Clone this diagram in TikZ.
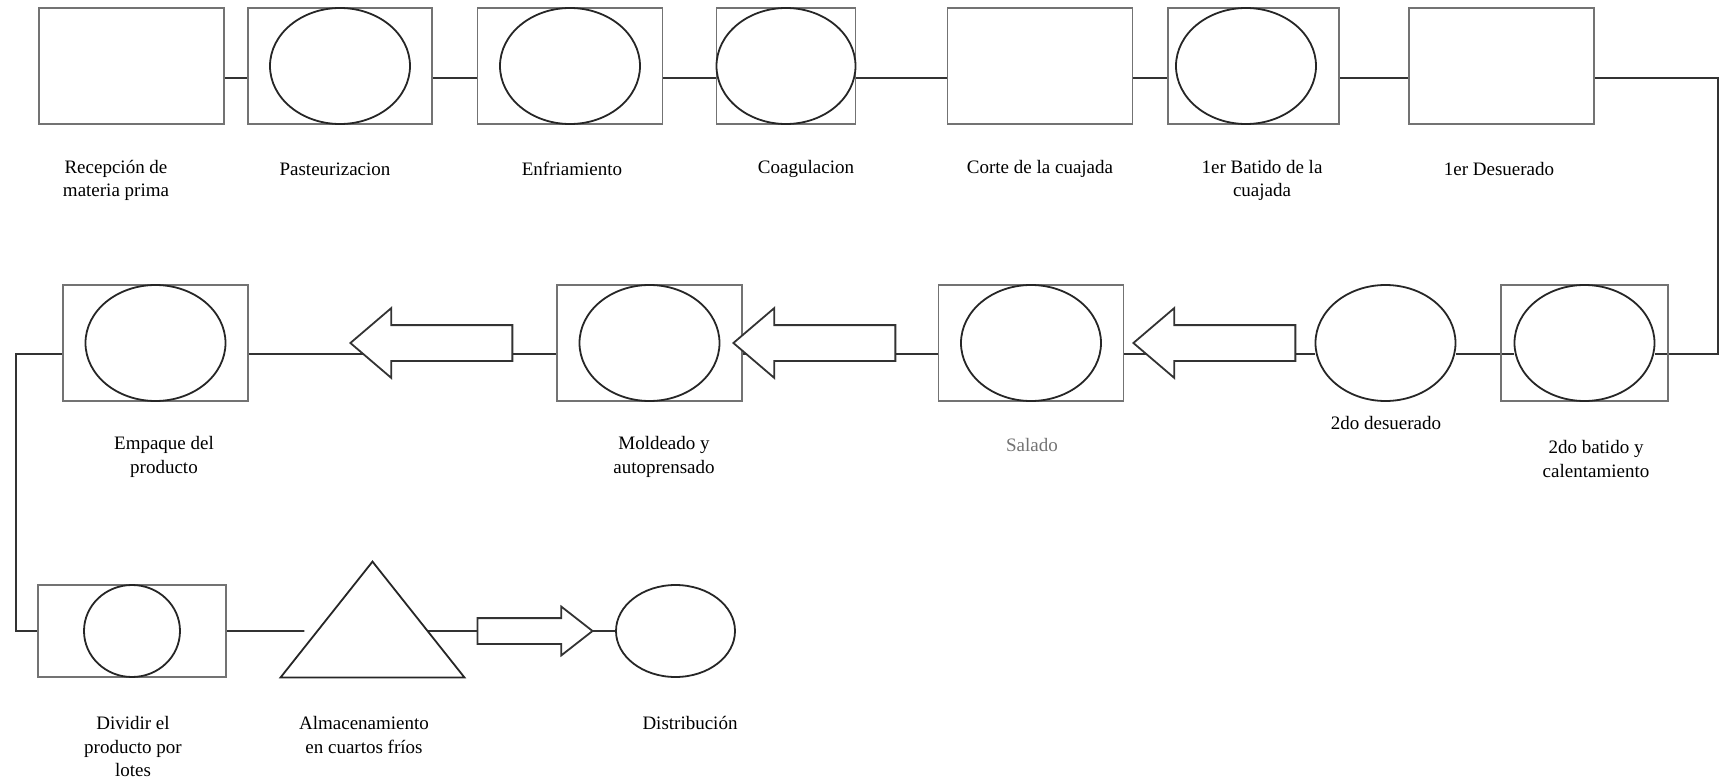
\documentclass[tikz,border=0pt]{standalone}
\usepackage{fontspec}
\setmainfont{Liberation Serif}
\usepackage{tikz}
\usetikzlibrary{shapes.geometric,shapes.arrows,backgrounds,calc}

\tikzset{
  caja/.style={draw=black!55, line width=0.6pt, inner sep=0pt, minimum width=92.5pt, minimum height=58pt},
  elip/.style={ellipse, draw=black!85, line width=0.9pt, inner sep=0pt, minimum width=70pt, minimum height=58pt},
  trazo/.style={draw=black!85, line width=0.9pt},
  linea/.style={draw=black!80, line width=0.9pt},
  flecha/.style={single arrow, draw=black!80, line width=0.9pt, fill=white, inner xsep=0pt, inner ysep=8.5pt,
    single arrow head extend=8.5pt, single arrow tip angle=81, single arrow head indent=0pt,
    minimum height=81pt, shape border rotate=180, anchor=tip},
  flechad/.style={single arrow, draw=black!80, line width=0.9pt, fill=white, inner xsep=0pt, inner ysep=6pt,
    single arrow head extend=5.75pt, single arrow tip angle=76, single arrow head indent=0pt,
    minimum height=57.5pt, anchor=tip},
  etiqueta/.style={font=\fontsize{9.5}{11.8}\selectfont, align=center, inner sep=0pt}
}

\begin{document}
\begin{tikzpicture}[x=0.5pt,y=-0.5pt]
\useasboundingbox (0,0) rectangle (1720,781);

% fila 1
\node[caja] (recep) at (131.5,66) {};
\node[caja, minimum width=92pt] (pasteur) at (340,66) {};
\node[elip] (pasteurE) at (340,66) {};
\node[caja] (enfri) at (570,66) {};
\node[elip] (enfriE) at (570,66) {};
\node[caja, minimum width=69.5pt] (coag) at (786,66) {};
\node[elip, minimum width=69.5pt] (coagE) at (786,66) {};
\node[caja] (corte) at (1040,66) {};
\node[caja, minimum width=85.5pt] (batido1) at (1253.5,66) {};
\node[elip] (batido1E) at (1246,66) {};
\node[caja] (desuer1) at (1501.5,66) {};

\node[etiqueta] (recepT) at (116,180.5) {Recepción de\\materia prima};
\node[etiqueta] (pasteurT) at (335,169) {Pasteurizacion};
\node[etiqueta] (enfriT) at (572,169) {Enfriamiento};
\node[etiqueta] (coagT) at (806,169) {Coagulacion};
\node[etiqueta] (corteT) at (1040,169) {Corte de la cuajada};
\node[etiqueta] (batido1T) at (1262,180.5) {1er Batido de la\\cuajada};
\node[etiqueta] (desuer1T) at (1499,169) {1er Desuerado};

% fila 2
\node[caja] (empaque) at (155.5,343) {};
\node[elip] (empaqueE) at (155.5,343) {};
\node[caja] (molde) at (649.5,343) {};
\node[elip] (moldeE) at (649.5,343) {};
\node[caja] (salado) at (1031,343) {};
\node[elip] (saladoE) at (1031,343) {};
\node[elip] (desuer2) at (1385.5,343) {};
\node[caja, minimum width=83.5pt] (batido2) at (1584.5,343) {};
\node[elip] (batido2E) at (1584.5,343) {};
\node[flecha] (fl1) at (349,343) {};
\node[flecha] (fl2) at (732,343) {};
\node[flecha] (fl3) at (1132,343) {};

\node[etiqueta] (empaqueT) at (164,457) {Empaque del\\producto};
\node[etiqueta] (moldeT) at (664,457) {Moldeado y\\autoprensado};
\node[etiqueta, text=black!55] (saladoT) at (1032,445) {Salado};
\node[etiqueta] (desuer2T) at (1386,423) {2do desuerado};
\node[etiqueta] (batido2T) at (1596,459) {2do batido y\\calentamiento};

% fila 3
\node[caja, minimum width=94pt, minimum height=46pt] (dividir) at (132,631) {};
\node[elip, minimum width=48pt, minimum height=46pt] (dividirE) at (132,631) {};
\node[minimum width=91.5pt, minimum height=57.5pt, inner sep=0pt] (almac) at (372.5,619.5) {};
\draw[trazo] (almac.north) -- (almac.south east) -- (almac.south west) -- cycle;
\node[flechad] (fl4) at (594,631) {};
\node[elip, minimum width=59.5pt, minimum height=46pt] (distrib) at (675.5,631) {};

\node[etiqueta] (dividirT) at (133,746.5) {Dividir el\\producto por\\lotes};
\node[etiqueta] (almacT) at (364,735) {Almacenamiento\\en cuartos fríos};
\node[etiqueta] (distribT) at (690,723) {Distribución};

% conectores
\coordinate (r1) at (0,78);
\coordinate (r2) at (0,354);
\coordinate (r3) at (0,631);
\coordinate (edgeR) at (1718,354);
\coordinate (edgeL) at (16,631);
\coordinate (triL) at ($(almac.north)!0.6!(almac.south west)$);
\coordinate (triR) at ($(almac.north)!0.6!(almac.south east)$);

\begin{scope}[on background layer]
\draw[linea] (recep.east |- r1) -- (pasteur.west |- r1);
\draw[linea] (pasteur.east |- r1) -- (enfri.west |- r1);
\draw[linea] (enfri.east |- r1) -- (coag.west |- r1);
\draw[linea] (coag.east |- r1) -- (corte.west |- r1);
\draw[linea] (corte.east |- r1) -- (batido1.west |- r1);
\draw[linea] (batido1.east |- r1) -- (desuer1.west |- r1);
\draw[linea] (desuer1.east |- r1) -| (edgeR) -- (batido2E.east |- r2);
\draw[linea] (batido2E.west |- r2) -- (desuer2.east |- r2);
\draw[linea] (desuer2.west |- r2) -- (salado.east |- r2);
\draw[linea] (salado.west |- r2) -- (molde.east |- r2);
\draw[linea] (molde.west |- r2) -- (empaque.east |- r2);
\draw[linea] (empaque.west |- r2) -| (edgeL) -- (dividir.west |- r3);
\draw[linea, shorten >=6.5pt] (dividir.east |- r3) -- (triL);
\draw[linea] (triR) -- (distrib.west |- r3);
\end{scope}
\end{tikzpicture}
\end{document}
